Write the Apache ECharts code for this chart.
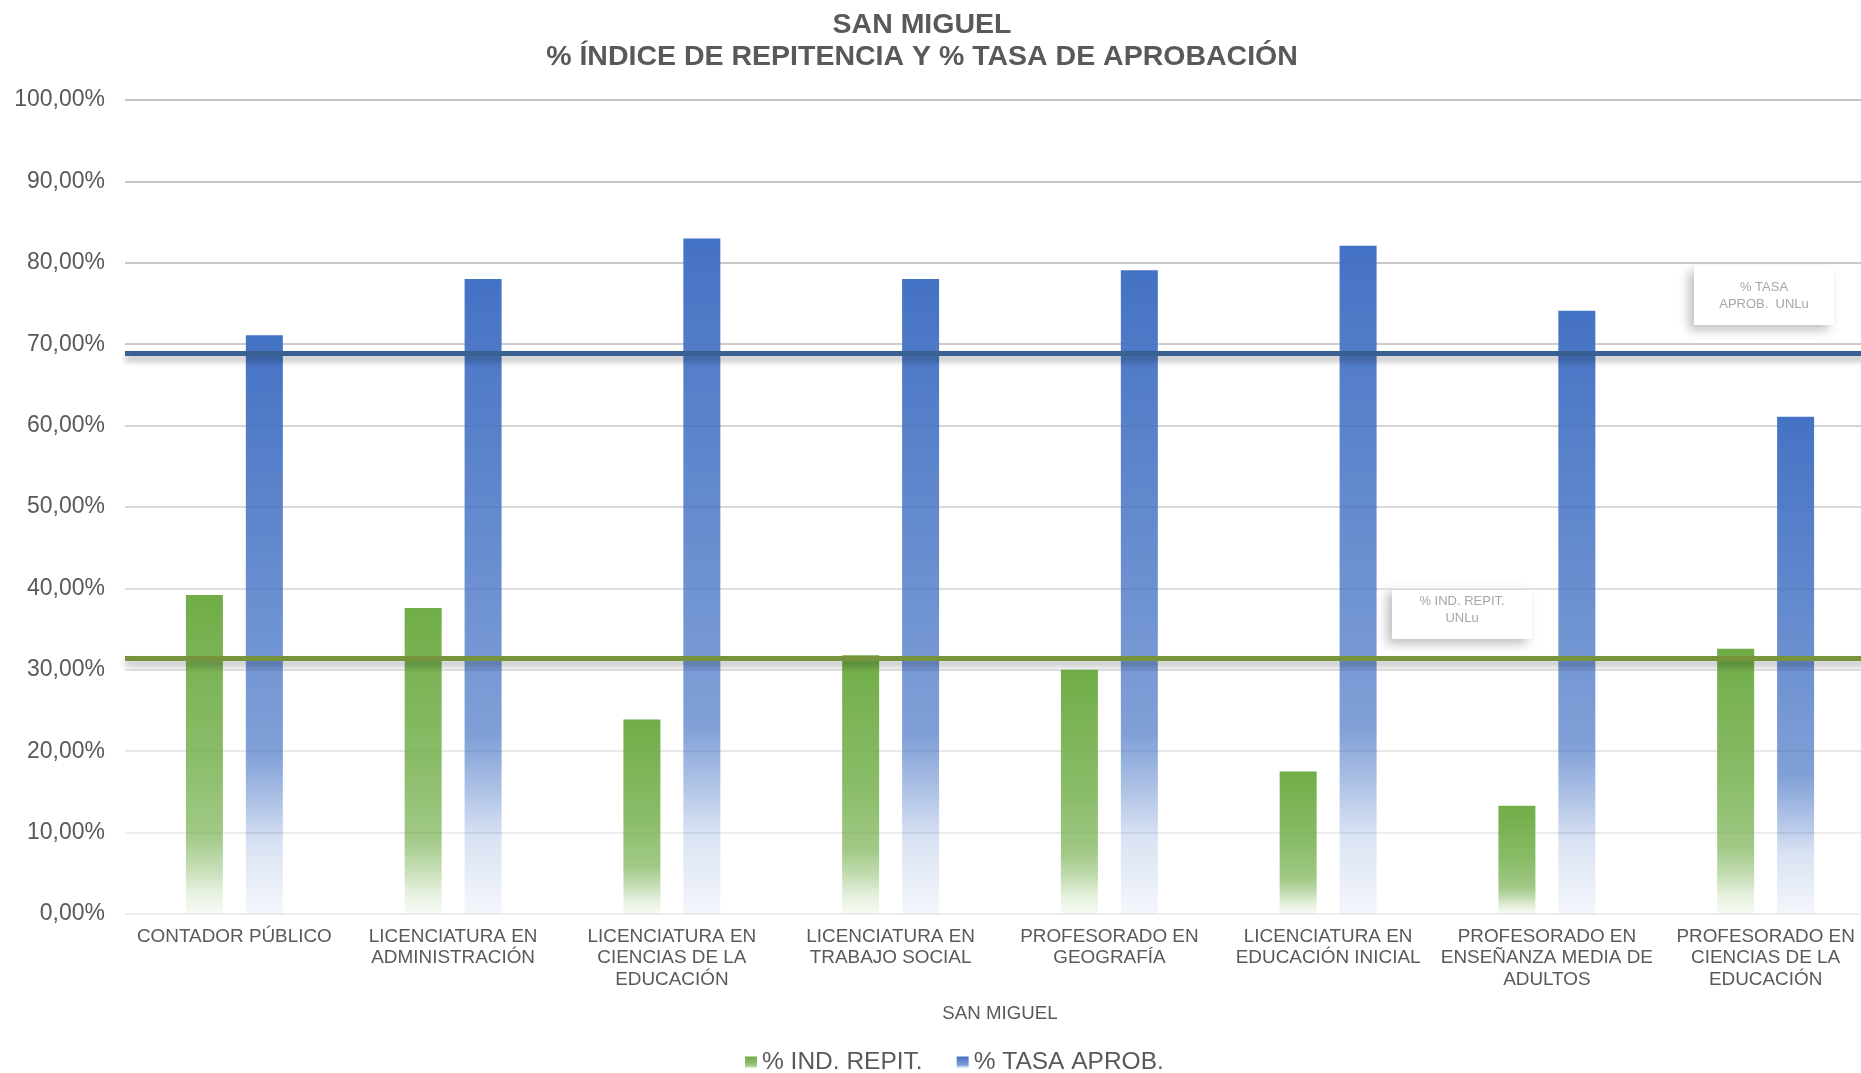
<!DOCTYPE html>
<html>
<head>
<meta charset="utf-8">
<script src="https://cdn.jsdelivr.net/npm/echarts@6/dist/echarts.min.js"></script>
<style>
  html, body { margin: 0; padding: 0; background: #fff; }
  #chart { width: 1861px; height: 1073px; }
</style>
</head>
<body>
<div id="chart"></div>
<script>
// categorias (con saltos de línea como en el original)
var categories = [
  'CONTADOR PÚBLICO',
  'LICENCIATURA EN\nADMINISTRACIÓN',
  'LICENCIATURA EN\nCIENCIAS DE LA\nEDUCACIÓN',
  'LICENCIATURA EN\nTRABAJO SOCIAL',
  'PROFESORADO EN\nGEOGRAFÍA',
  'LICENCIATURA EN\nEDUCACIÓN INICIAL',
  'PROFESORADO EN\nENSEÑANZA MEDIA DE\nADULTOS',
  'PROFESORADO EN\nCIENCIAS DE LA\nEDUCACIÓN'
];
var indRepit = [39.2, 37.6, 23.9, 31.8, 30.0, 17.5, 13.3, 32.6];
var tasaAprob = [71.1, 78.0, 83.0, 78.0, 79.1, 82.1, 74.1, 61.1];
// promedios UNLu
var repitUNLu = 31.4;
var aprobUNLu = 68.9;
var yTicks = [0, 10, 20, 30, 40, 50, 60, 70, 80, 90, 100];

var FONT = '"Liberation Sans", Arial, sans-serif';
var TEXT = '#595959';

function fade(r, g, b, stops) {
  return {
    type: 'linear', x: 0, y: 0, x2: 0, y2: 1,
    colorStops: stops.map(function (s) {
      return { offset: s[0], color: 'rgba(' + r + ',' + g + ',' + b + ',' + s[1] + ')' };
    })
  };
}

var myChart = echarts.init(document.getElementById('chart'));

var option = {
  backgroundColor: '#fff',
  animation: false,
  title: {
    text: 'SAN MIGUEL\n% ÍNDICE DE REPITENCIA Y % TASA DE APROBACIÓN',
    left: 917,
    top: 0,
    textAlign: 'center',
    padding: [9, 5, 5, 5],
    textStyle: {
      fontFamily: FONT,
      fontSize: 28.5,
      fontWeight: 'bold',
      color: TEXT,
      lineHeight: 32
    }
  },
  legend: {
    left: 745,
    top: 1050,
    padding: 0,
    itemGap: 34,
    itemWidth: 12,
    itemHeight: 12,
    icon: 'rect',
    textStyle: { fontFamily: FONT, fontSize: 24.5, color: TEXT },
    data: ['% IND. REPIT.', '% TASA APROB.']
  },
  grid: {
    left: 125,
    right: -14,
    top: 100,
    bottom: 159,
    containLabel: false,
    outerBoundsMode: 'none'
  },
  xAxis: {
    type: 'category',
    data: categories,
    name: 'SAN MIGUEL',
    nameLocation: 'middle',
    nameGap: 89,
    nameTextStyle: { fontFamily: FONT, fontSize: 18.7, color: TEXT, lineHeight: 21.5 },
    axisLine: { show: false },
    axisTick: { show: false },
    axisLabel: {
      interval: 0,
      margin: 12,
      fontFamily: FONT,
      fontSize: 18.9,
      lineHeight: 21.5,
      color: TEXT
    }
  },
  yAxis: {
    type: 'value',
    min: yTicks[0],
    max: yTicks[yTicks.length - 1],
    interval: 10,
    axisLine: { show: false },
    axisTick: { show: false },
    axisLabel: {
      margin: 20,
      fontFamily: FONT,
      fontSize: 23,
      color: TEXT,
      formatter: function (v) {
        return v.toFixed(2).replace('.', ',') + '%';
      }
    },
    splitLine: {
      lineStyle: {
        width: 2,
        color: ['#eeeeee', '#ececec', '#e8e8e8', '#e3e3e3', '#dedede', '#d9d9d9',
                '#d4d4d4', '#cdcdcd', '#c8c8c8', '#c5c5c5', '#c2c2c2']
      }
    }
  },
  series: [
    {
      name: '% IND. REPIT.',
      type: 'bar',
      data: indRepit,
      barWidth: 37,
      barGap: '62%',
      itemStyle: {
        color: fade(112, 173, 71, [[0, 1], [0.5, 0.82], [0.75, 0.66], [0.85, 0.42], [0.93, 0.18], [1, 0.05]])
      },
      markLine: {
        silent: true,
        symbol: ['none', 'none'],
        label: { show: false },
        lineStyle: {
          type: 'solid',
          width: 5,
          color: '#77933c',
          shadowColor: 'rgba(0,0,0,0.3)',
          shadowBlur: 6,
          shadowOffsetY: 5
        },
        data: [{ yAxis: repitUNLu }]
      }
    },
    {
      name: '% TASA APROB.',
      type: 'bar',
      data: tasaAprob,
      barWidth: 37,
      barGap: '62%',
      itemStyle: {
        color: fade(68, 114, 196, [[0, 1], [0.45, 0.8], [0.72, 0.68], [0.8, 0.45], [0.88, 0.2], [1, 0.06]])
      },
      markLine: {
        silent: true,
        symbol: ['none', 'none'],
        label: { show: false },
        lineStyle: {
          type: 'solid',
          width: 5,
          color: '#386090',
          shadowColor: 'rgba(0,0,0,0.3)',
          shadowBlur: 6,
          shadowOffsetY: 5
        },
        data: [{ yAxis: aprobUNLu }]
      }
    }
  ],
  // cuadros de texto (etiquetas de los promedios UNLu)
  graphic: [
    {
      type: 'group',
      left: 1694,
      top: 266,
      z: 100,
      children: [
        {
          type: 'rect',
          shape: { x: 0, y: 0, width: 140, height: 59 },
          style: {
            fill: '#fff',
            shadowColor: 'rgba(0,0,0,0.25)',
            shadowBlur: 10,
            shadowOffsetX: -5,
            shadowOffsetY: 5
          }
        },
        {
          type: 'text',
          x: 70,
          y: 29.5,
          style: {
            text: '% TASA\nAPROB.  UNLu',
            align: 'center',
            verticalAlign: 'middle',
            fontFamily: FONT,
            fontSize: 13,
            lineHeight: 17,
            fill: '#a6a6a6'
          }
        }
      ]
    },
    {
      type: 'group',
      left: 1392,
      top: 587,
      z: 100,
      children: [
        {
          type: 'rect',
          shape: { x: 0, y: 0, width: 140, height: 52 },
          style: {
            fill: '#fff',
            shadowColor: 'rgba(0,0,0,0.25)',
            shadowBlur: 10,
            shadowOffsetX: -5,
            shadowOffsetY: 5
          }
        },
        {
          type: 'text',
          x: 70,
          y: 23,
          style: {
            text: '% IND. REPIT.\nUNLu',
            align: 'center',
            verticalAlign: 'middle',
            fontFamily: FONT,
            fontSize: 13,
            lineHeight: 17,
            fill: '#a6a6a6'
          }
        }
      ]
    }
  ]
};

myChart.setOption(option);
</script>
</body>
</html>
